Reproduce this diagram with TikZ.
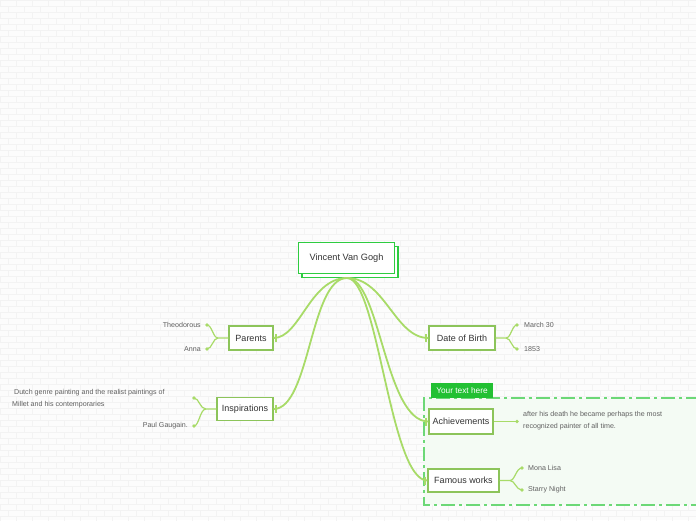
\documentclass[tikz,border=0pt]{standalone}
\usepackage{fontspec}
\setmainfont{Liberation Sans}
\definecolor{bg}{HTML}{FCFCFC}
\definecolor{brick}{HTML}{F3F3F3}
\definecolor{conn}{HTML}{A8DB68}
\definecolor{boxb}{HTML}{8CC45A}
\definecolor{rootg}{HTML}{2ECC40}
\definecolor{tagg}{HTML}{22C033}
\definecolor{dashg}{HTML}{6CD877}
\definecolor{zone}{HTML}{F4FBF4}
\definecolor{txt}{HTML}{333333}
\definecolor{leaft}{HTML}{606060}
\begin{document}
\begin{tikzpicture}[x=1pt,y=-1pt,
  rootbox/.style={draw=rootg,line width=1.6pt,fill=white,minimum width=96pt,minimum height=31pt,inner sep=0pt,font=\fontsize{9.2}{11}\selectfont,text=txt},
  topic/.style={draw=boxb,line width=1.2pt,fill=white,inner sep=0pt,font=\fontsize{9}{10}\selectfont,text=txt},
  conline/.style={draw=conn,line width=1.8pt},
  leafline/.style={draw=conn,line width=1.2pt},
  tickmark/.style={draw=conn,line width=2pt},
  leaftext/.style={font=\fontsize{7.1}{12.5}\selectfont,text=leaft,inner sep=0pt},
  dot/.style={fill=conn}]
\useasboundingbox (0,0) rectangle (696,520);
% background bricks
\fill[bg] (0,0) rectangle (696,520);
\foreach \r in {0,...,86}{
  \pgfmathsetmacro\yy{\r*6}
  \pgfmathsetmacro\off{mod(\r,2)*8}
  \draw[brick,line width=0.4pt] (0,\yy) -- (696,\yy);
  \draw[brick,line width=0.4pt] \foreach \c in {0,...,43}{(\off+\c*16,\yy) -- ++(0,6)};
}
% boundary zone
\fill[zone] (424,398) rectangle (700,505);
\draw[dashg,line width=1.5pt,dash pattern=on 14pt off 4pt on 3pt off 4pt] (700,398) -- (424,398) -- (424,505) -- (700,505);
\node[fill=tagg,text=white,minimum width=62pt,minimum height=15pt,inner sep=0pt,font=\fontsize{8.3}{9}\selectfont] (tag) at (462,390.5) {Your text here};
% root
\node[rootbox] (rootsh) at (350,262) {};
\node[rootbox] (root) at (346.5,258) {Vincent Van Gogh};
% topics
\node[topic,minimum width=44pt,minimum height=24pt] (parents) at (251,338) {Parents};
\node[topic,minimum width=56pt,minimum height=23pt] (insp) at (245,409) {Inspirations};
\node[topic,minimum width=66pt,minimum height=24pt] (dob) at (462,338) {Date of Birth};
\node[topic,minimum width=64pt,minimum height=25pt] (ach) at (461,421.5) {Achievements};
\node[topic,minimum width=71pt,minimum height=23pt] (fam) at (463.5,480.5) {Famous works};
% main connectors
\coordinate (hub) at (347,278);
\draw[conline] (hub) .. controls (310,278) and (300,338) .. (parents.east);
\draw[conline] (hub) .. controls (310,278) and (310,409) .. (insp.east);
\draw[conline] (hub) .. controls (385,278) and (395,338) .. (dob.west);
\draw[conline] (hub) .. controls (380,278) and (385,421.5) .. (ach.west);
\draw[conline] (hub) .. controls (378,278) and (390,480.5) .. (fam.west);
\foreach \n in {parents,insp}{\draw[tickmark] ([xshift=2pt,yshift=4pt]\n.east) -- ([xshift=2pt,yshift=-4pt]\n.east);}
\foreach \n in {dob,ach,fam}{\draw[tickmark] ([xshift=-2pt,yshift=4pt]\n.west) -- ([xshift=-2pt,yshift=-4pt]\n.west);}
% leaf points
\coordinate (pj) at (218,338);
\coordinate (p1) at (207,325);
\coordinate (p2) at (207,349);
\coordinate (ij) at (206,409);
\coordinate (i1) at (194,398);
\coordinate (i2) at (194,426);
\coordinate (dj) at (506,338);
\coordinate (d1) at (517,325);
\coordinate (d2) at (517,349);
\coordinate (a1) at (517,421.5);
\coordinate (fj) at (510,480.5);
\coordinate (f1) at (522,468);
\coordinate (f2) at (522,490);
% leaf lines
\draw[leafline] (parents.west) -- (pj) .. controls (213,338) and (212,325) .. (p1);
\draw[leafline] (pj) .. controls (213,338) and (212,349) .. (p2);
\draw[leafline] (insp.west) -- (ij) .. controls (200,409) and (199,398) .. (i1);
\draw[leafline] (ij) .. controls (200,409) and (199,426) .. (i2);
\draw[leafline] (dob.east) -- (dj) .. controls (511,338) and (512,325) .. (d1);
\draw[leafline] (dj) .. controls (511,338) and (512,349) .. (d2);
\draw[leafline] (ach.east) -- (a1);
\draw[leafline] (fam.east) -- (fj) .. controls (515,480.5) and (516,468) .. (f1);
\draw[leafline] (fj) .. controls (515,480.5) and (516,490) .. (f2);
\foreach \p in {p1,p2,i1,i2,d1,d2,a1,f1,f2}{\fill[dot] (\p) circle (1.9pt);}
% leaf texts
\node[leaftext,anchor=east] (t1) at (201,325) {Theodorous};
\node[leaftext,anchor=east] (t2) at (201,349) {Anna};
\node[leaftext,anchor=west,align=left] (t3) at (12,398.5) {\ Dutch genre painting and the realist paintings of\\Millet and his contemporaries};
\node[leaftext,anchor=east] (t4) at (188,426) {Paul Gaugain.};
\node[leaftext,anchor=west] (t5) at (524,325) {March 30};
\node[leaftext,anchor=west] (t6) at (524,349) {1853};
\node[leaftext,anchor=west,align=left] (t7) at (523,420.5) {after his death he became perhaps the most\\recognized painter of all time.};
\node[leaftext,anchor=west] (t8) at (528,468) {Mona Lisa};
\node[leaftext,anchor=west] (t9) at (528,490) {Starry Night};
\end{tikzpicture}
\end{document}
